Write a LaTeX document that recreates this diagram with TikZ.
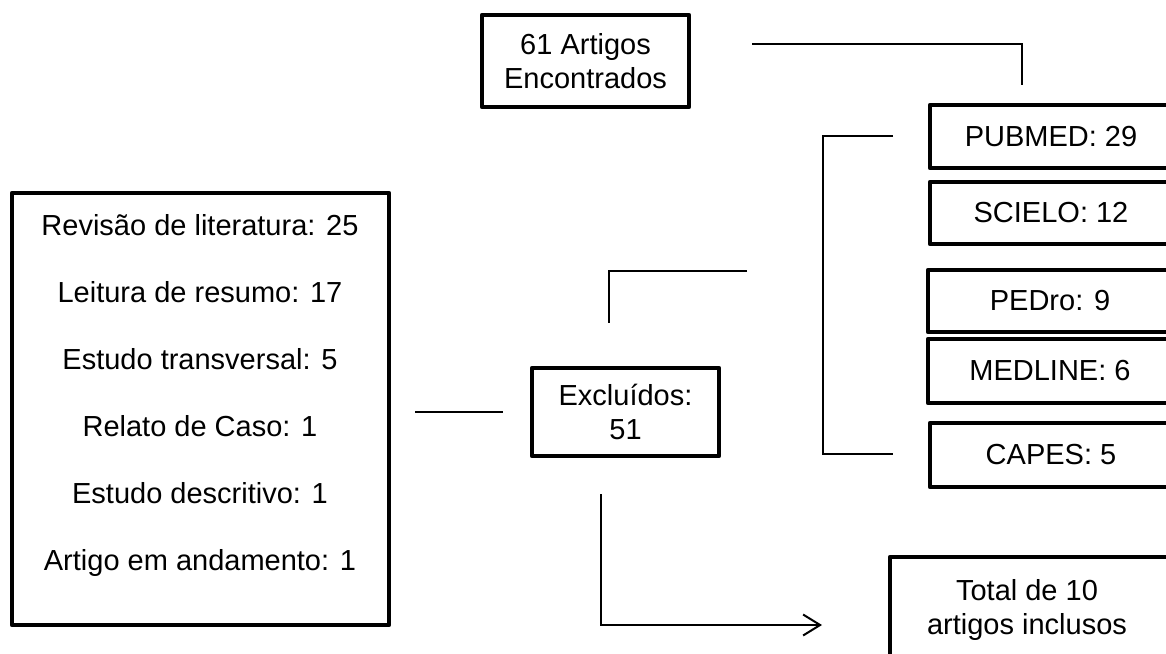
\documentclass[tikz,border=0pt]{standalone}
\usepackage{fontspec}
\setmainfont{Liberation Sans}
\usetikzlibrary{arrows.meta}
\begin{document}
\begin{tikzpicture}[x=1pt,y=-1pt,
  box/.style={draw, line width=4.5pt, line join=round, inner sep=0pt, align=center, font=\fontsize{29}{34}\selectfont},
  txt/.style={inner sep=0pt, align=center, font=\fontsize{29}{34}\selectfont},
  conn/.style={draw, line width=2pt}]
\useasboundingbox (0,0) rectangle (1166,653);
\clip (0,0) rectangle (1166,653);
% boxes
\node[box, minimum width=207pt, minimum height=92pt] (found) at (585.5,61) {61 Artigos\\Encontrados};
\node[box, minimum width=242pt, minimum height=63pt] (pub) at (1051,136.5) {PUBMED: 29};
\node[box, minimum width=242pt, minimum height=62pt] (sci) at (1051,213) {SCIELO: 12};
\node[box, minimum width=244pt, minimum height=62pt] (ped) at (1050,301) {PEDro: 9};
\node[box, minimum width=244pt, minimum height=64pt] (med) at (1050,371) {MEDLINE: 6};
\node[box, minimum width=242pt, minimum height=64pt] (cap) at (1051,455) {CAPES: 5};
\node[box, minimum width=187pt, minimum height=88pt] (exc) at (625.5,412) {Excluídos:\\51};
\node[box, minimum width=377pt, minimum height=432pt] (left) at (200.5,409) {};
\node[txt, font=\fontsize{29}{67}\selectfont] (lefttxt) at (200,395.5) {Revisão de literatura: 25\\Leitura de resumo: 17\\Estudo transversal: 5\\Relato de Caso: 1\\Estudo descritivo: 1\\Artigo em andamento: 1};
\node[box, minimum width=285pt, minimum height=143pt] (total) at (1032.5,628.5) {};
\node[txt] (totaltxt) at (1027,610) {Total de 10\\artigos inclusos};
% connector coordinates
\coordinate (a1) at (752,44);
\coordinate (a2) at (1022,44);
\coordinate (a3) at (1022,85);
\coordinate (b1) at (893,136);
\coordinate (b2) at (823,136);
\coordinate (b3) at (823,454);
\coordinate (b4) at (893,454);
\coordinate (c1) at (747,271);
\coordinate (c2) at (609,271);
\coordinate (c3) at (609,323);
\coordinate (d1) at (415,412);
\coordinate (d2) at (503,412);
\coordinate (e1) at (601,494);
\coordinate (e2) at (601,625);
\coordinate (e3) at (822,625);
% connectors
\draw[conn] (a1) -- (a2) -- (a3);
\draw[conn] (b1) -- (b2) -- (b3) -- (b4);
\draw[conn] (c1) -- (c2) -- (c3);
\draw[conn] (d1) -- (d2);
\draw[conn, -{Straight Barb[length=17pt,width=21pt]}] (e1) -- (e2) -- (e3);
\end{tikzpicture}
\end{document}
